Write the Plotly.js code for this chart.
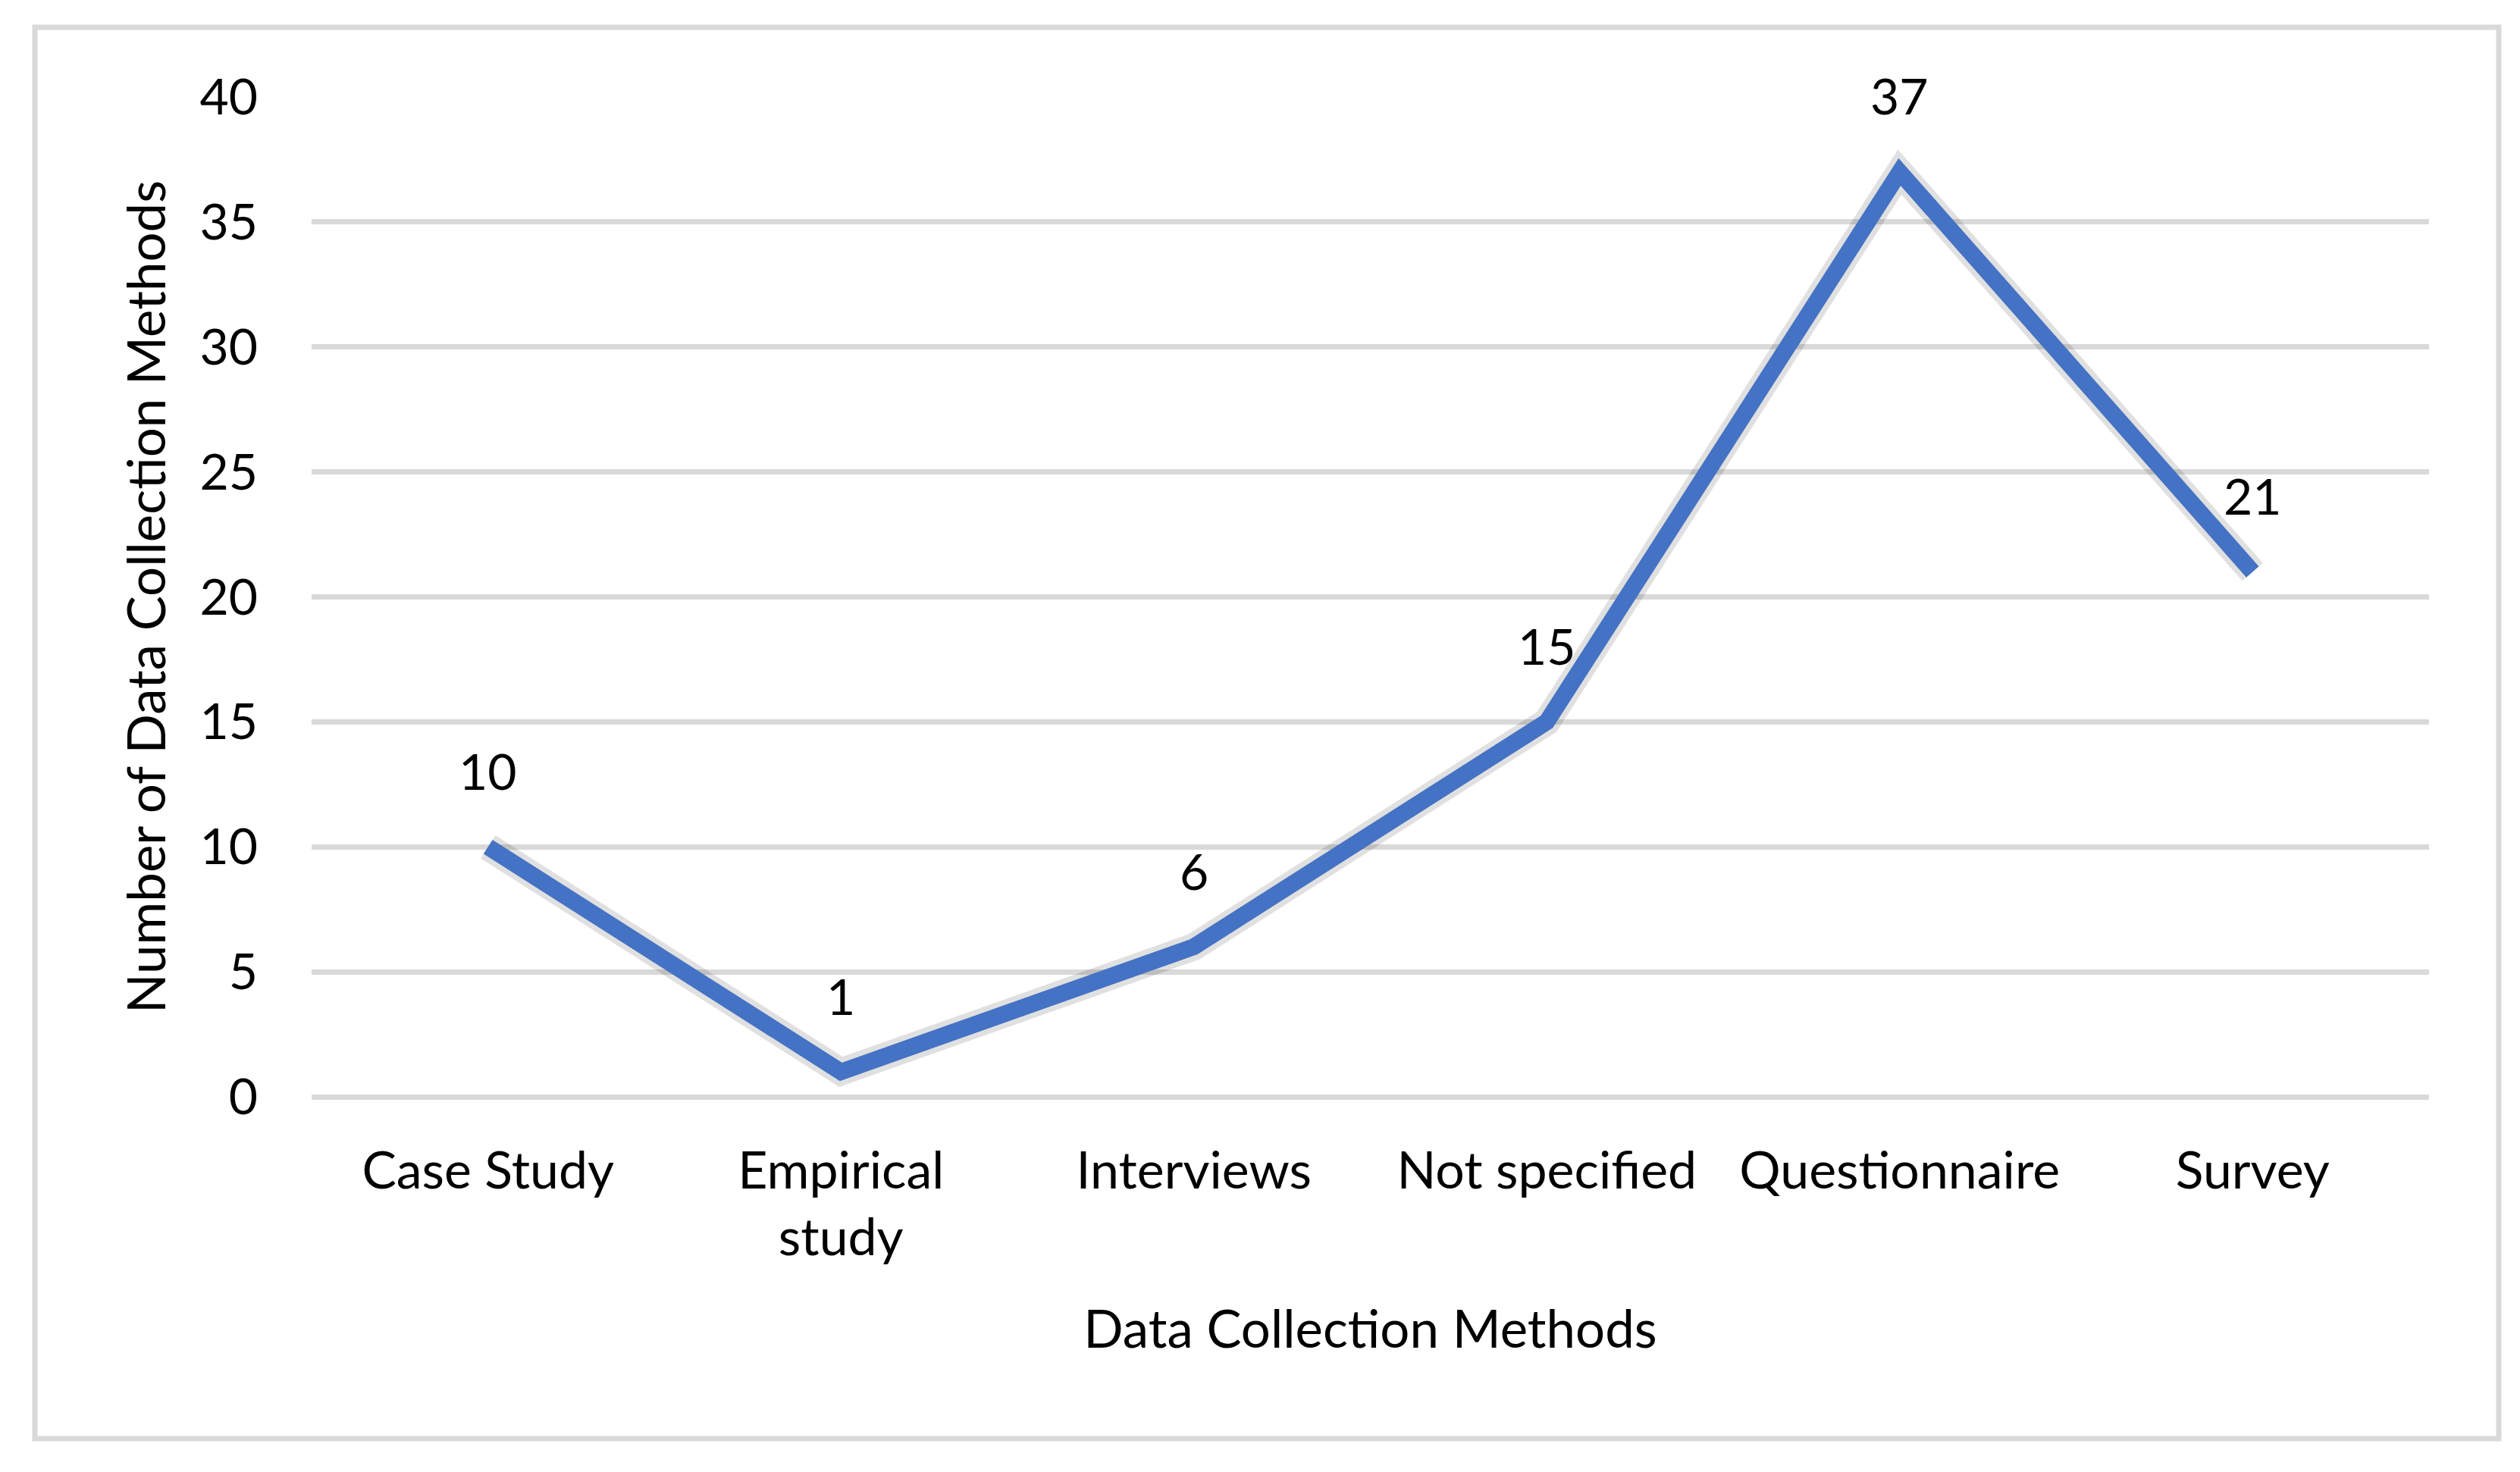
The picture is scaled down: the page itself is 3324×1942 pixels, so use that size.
<!DOCTYPE html>
<html>
<head>
<meta charset="utf-8">
<script src="https://cdn.plot.ly/plotly-3.0.1.min.js"></script>
<style>
  html, body { margin: 0; padding: 0; background: #ffffff; }
  #chart { width: 3324px; height: 1942px; }
</style>
</head>
<body>
<div id="chart"></div>
<script>
// ---- data ----
const categories = ["Case Study", "Empirical<br>study", "Interviews", "Not specified", "Questionnaire", "Survey"];
const counts = [10, 1, 6, 15, 37, 21];
const yTickValues = [0, 5, 10, 15, 20, 25, 30, 35, 40];
const xTitle = "Data Collection Methods";
const yTitle = "Number of Data Collection Methods";

// ---- styling ----
const FONT = "Lato, 'Open Sans', sans-serif";
const TXT = "#000000";
const GRID = "#d9d9d9";
const LINE = "#4472C4";

const W = 3324, H = 1942;
const L = 411, R = W - 3204, T = 128, B = H - 1447;
const pw = W - L - R, ph = H - T - B;
function px2x(p) { return (p - L) / pw; }
function px2y(p) { return (H - B - p) / ph; }

const traces = [
  {
    x: categories,
    y: counts,
    type: "scatter",
    mode: "lines",
    line: { color: "rgba(0,0,0,0.12)", width: 36, shape: "linear" },
    hoverinfo: "skip",
    showlegend: false
  },
  {
    x: categories,
    y: counts,
    type: "scatter",
    mode: "lines",
    line: { color: LINE, width: 22, shape: "linear" },
    showlegend: false
  }
];

const annotations = categories.map((c, i) => ({
  x: c,
  y: counts[i],
  xref: "x",
  yref: "y",
  text: String(counts[i]),
  showarrow: false,
  yshift: 101,
  font: { family: FONT, size: 66, color: TXT }
}));

const layout = {
  width: W,
  height: H,
  margin: { l: L, r: R, t: T, b: B, pad: 0 },
  paper_bgcolor: "#ffffff",
  plot_bgcolor: "#ffffff",
  font: { family: FONT, size: 66, color: TXT },
  showlegend: false,
  xaxis: {
    type: "category",
    range: [-0.5, 5.5],
    showgrid: false,
    zeroline: false,
    showline: false,
    ticks: "",
    tickfont: { family: FONT, size: 68, color: TXT },
    ticklabelstandoff: 52,
    automargin: false,
    title: { text: xTitle, font: { family: FONT, size: 69, color: TXT }, standoff: 60 }
  },
  yaxis: {
    range: [0, 40],
    tickmode: "array",
    tickvals: yTickValues,
    ticktext: yTickValues.map(String),
    showgrid: true,
    gridcolor: GRID,
    gridwidth: 7,
    zeroline: true,
    zerolinecolor: GRID,
    zerolinewidth: 7,
    showline: false,
    ticks: "",
    tickfont: { family: FONT, size: 66, color: TXT },
    ticklabelstandoff: 70,
    automargin: false,
    title: { text: yTitle, font: { family: FONT, size: 69, color: TXT }, standoff: 22 }
  },
  annotations: annotations,
  shapes: [
    {
      type: "rect",
      xref: "paper", yref: "paper",
      x0: px2x(46), x1: px2x(3296),
      y0: px2y(1898), y1: px2y(36),
      line: { color: GRID, width: 7 },
      fillcolor: "rgba(0,0,0,0)",
      layer: "below"
    }
  ]
};

Plotly.newPlot("chart", traces, layout, { staticPlot: true, displayModeBar: false });
</script>
</body>
</html>
